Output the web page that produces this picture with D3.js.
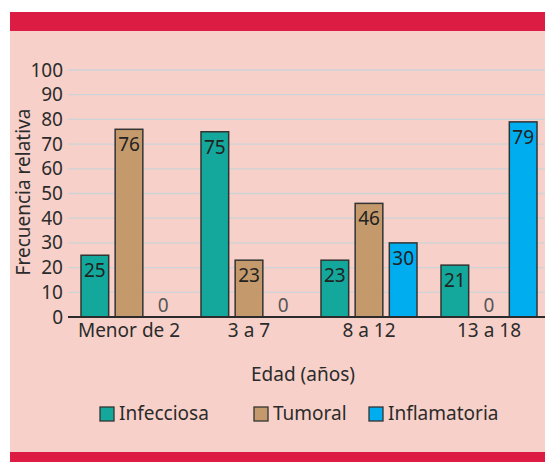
<!DOCTYPE html>
<html>
<head>
<meta charset="utf-8">
<script src="https://cdn.jsdelivr.net/npm/d3@7"></script>
<style>
  body { margin: 0; background: #fff; }
  svg text { font-family: "Noto Sans", sans-serif; fill: #2b2b2b; }
</style>
</head>
<body>
<svg id="chart" width="545" height="462"></svg>
<script>
// data
const groups = ["Menor de 2", "3 a 7", "8 a 12", "13 a 18"];
const series = ["Infecciosa", "Tumoral", "Inflamatoria"];
const infecciosa = [25, 75, 23, 21];
const tumoral = [76, 23, 46, 0];
const inflamatoria = [0, 0, 30, 79];
const yTicks = [0, 10, 20, 30, 40, 50, 60, 70, 80, 90, 100];
const colors = ["#13a89b", "#c49a6c", "#00aeef"];

const values = [infecciosa, tumoral, inflamatoria];
const table = groups.map((g, i) => ({
  group: g,
  bars: series.map((s, j) => ({ key: s, value: values[j][i] }))
}));

const svg = d3.select("#chart");

// frame: pink panel with red bands
svg.append("rect").attr("x", 10).attr("y", 12).attr("width", 535).attr("height", 450).attr("fill", "#f7d1c9");
svg.append("rect").attr("x", 10).attr("y", 12).attr("width", 535).attr("height", 19).attr("fill", "#dd1c44");
svg.append("rect").attr("x", 10).attr("y", 452).attr("width", 535).attr("height", 10).attr("fill", "#dd1c44");

const x0 = d3.scaleBand().domain(groups).range([69, 549]).paddingInner(0.2).paddingOuter(0.1);
const x1 = d3.scaleBand().domain(series).range([0, x0.bandwidth()]).paddingInner(0.19);
const y = d3.scaleLinear().domain([0, 100]).range([317, 70]);
const color = d3.scaleOrdinal().domain(series).range(colors);

// gridlines
svg.append("g")
  .selectAll("line")
  .data(yTicks.filter(d => d > 0))
  .enter().append("line")
  .attr("x1", 68).attr("x2", 545)
  .attr("y1", d => y(d)).attr("y2", d => y(d))
  .attr("stroke", "#cdd3d6").attr("stroke-width", 1.3);

// y axis labels
const yAxis = d3.axisLeft(y).tickValues(yTicks).tickSize(0).tickPadding(0);
svg.append("g")
  .attr("transform", "translate(63,0)")
  .call(yAxis)
  .call(g => g.select(".domain").remove())
  .selectAll("text")
  .attr("font-size", 19)
  .style("fill", "#2b2b2b");

// bars
const grp = svg.append("g")
  .selectAll("g")
  .data(table)
  .enter().append("g")
  .attr("transform", d => "translate(" + x0(d.group) + ",0)");

grp.selectAll("rect")
  .data(d => d.bars.filter(b => b.value > 0))
  .enter().append("rect")
  .attr("x", d => x1(d.key))
  .attr("y", d => y(d.value))
  .attr("width", x1.bandwidth())
  .attr("height", d => y(0) - y(d.value))
  .attr("fill", d => color(d.key))
  .attr("stroke", "#333")
  .attr("stroke-width", 1.5);

grp.selectAll("text")
  .data(d => d.bars)
  .enter().append("text")
  .attr("x", d => x1(d.key) + x1.bandwidth() / 2)
  .attr("y", d => d.value > 0 ? y(d.value) + 22 : y(0) - 5)
  .attr("text-anchor", "middle")
  .attr("font-size", 19)
  .style("fill", d => d.value > 0 ? "#222" : "#555")
  .text(d => d.value);

// baseline
svg.append("line")
  .attr("x1", 68).attr("x2", 545)
  .attr("y1", y(0)).attr("y2", y(0))
  .attr("stroke", "#2b2b2b").attr("stroke-width", 2);

// x axis labels
const xAxis = d3.axisBottom(x0).tickSize(0).tickPadding(0);
svg.append("g")
  .attr("transform", "translate(0,322)")
  .call(xAxis)
  .call(g => g.select(".domain").remove())
  .selectAll("text")
  .attr("font-size", 19)
  .attr("dy", "0.78em")
  .style("fill", "#2b2b2b");

// axis titles
svg.append("text")
  .attr("x", 303).attr("y", 381)
  .attr("text-anchor", "middle")
  .attr("font-size", 19)
  .text("Edad (años)");

svg.append("text")
  .attr("transform", "translate(30,192) rotate(-90)")
  .attr("text-anchor", "middle")
  .attr("font-size", 19)
  .text("Frecuencia relativa");

// legend
const legendX = [100, 254, 369];
const legend = svg.append("g")
  .selectAll("g")
  .data(series)
  .enter().append("g")
  .attr("transform", (d, i) => "translate(" + legendX[i] + ",407)");

legend.append("rect")
  .attr("width", 14).attr("height", 14)
  .attr("fill", d => color(d))
  .attr("stroke", "#333").attr("stroke-width", 1.3);

legend.append("text")
  .attr("x", 19).attr("y", 13)
  .attr("font-size", 19)
  .text(d => d);
</script>
</body>
</html>
